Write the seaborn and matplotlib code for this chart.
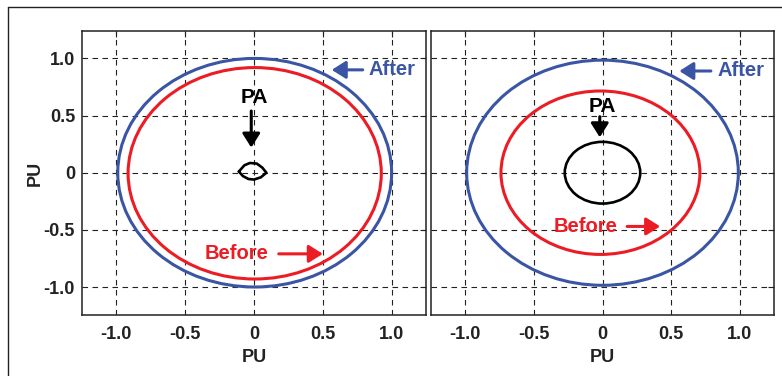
import numpy as np
import pandas as pd
import matplotlib
matplotlib.use("Agg")
import matplotlib.pyplot as plt
from matplotlib.patches import Ellipse
from matplotlib.lines import Line2D
import seaborn as sns

# ---- data ----
tick_vals = [-1.0, -0.5, 0.0, 0.5, 1.0]
tick_labels = ["-1.0", "-0.5", "0", "0.5", "1.0"]

# radii (x, y) of the loci
left_after_r = [0.995, 1.0]
left_before_r = [0.92, 0.925]
right_after_r = [0.99, 0.985]
right_before_r = [0.725, 0.715]
right_pa_r = [0.275, 0.27]
left_center_offset = [0.005, 0.0]
right_before_center = [-0.015, 0.0]

# small irregular PA locus (left panel)
pa_x = [-0.11, -0.07, -0.03, 0.02, 0.06, 0.09, 0.05, 0.0, -0.04, -0.08, -0.11]
pa_y = [0.01, 0.065, 0.085, 0.08, 0.045, 0.0, -0.04, -0.06, -0.055, -0.03, 0.01]

BLUE = "#3b55a5"
RED = "#ec1c24"

sns.set_style("white")
plt.rcParams["font.family"] = ["Liberation Sans", "DejaVu Sans"]
plt.rcParams["font.weight"] = "bold"

fig = plt.figure(figsize=(7.82, 3.76), dpi=100)
ax1 = fig.add_axes([82 / 782, 1 - 315 / 376, 344 / 782, 284 / 376])
ax2 = fig.add_axes([431 / 782, 1 - 315 / 376, 343 / 782, 284 / 376])

# outer frame (top and left edges)
fig.add_artist(Line2D([8 / 782, 1.0], [1 - 7 / 376, 1 - 7 / 376], transform=fig.transFigure, color="#222222", lw=1.0))
fig.add_artist(Line2D([8 / 782, 8 / 782], [0.0, 1 - 7 / 376], transform=fig.transFigure, color="#222222", lw=1.0))

for ax in (ax1, ax2):
    ax.set_xlim(-1.25, 1.25)
    ax.set_ylim(-1.245, 1.24)
    ax.set_xticks(tick_vals)
    ax.set_xticklabels(tick_labels)
    ax.set_yticks(tick_vals)
    ax.grid(True, color="#222222", linestyle=(0, (5, 4)), linewidth=0.8)
    ax.set_axisbelow(True)
    for s in ax.spines.values():
        s.set_visible(True)
        s.set_color("#222222")
        s.set_linewidth(1.1)
    ax.tick_params(direction="in", length=4, width=0.8, top=True, right=True,
                   labelsize=13, pad=8, colors="#222222")
    for lab in ax.get_xticklabels() + ax.get_yticklabels():
        lab.set_fontweight("bold")
    ax.set_xlabel("PU", fontsize=13, fontweight="bold", color="#222222", labelpad=4)

ax1.set_yticklabels(tick_labels)
ax1.tick_params(axis="y", pad=5)
ax1.set_ylabel("PU", fontsize=13, fontweight="bold", color="#222222", labelpad=0)
ax2.set_yticklabels([])
ax2.set_ylabel("")

LW = 2.2

# left panel loci
ax1.add_patch(Ellipse((left_center_offset[0], left_center_offset[1]), 2 * left_after_r[0], 2 * left_after_r[1],
                      fill=False, ec=BLUE, lw=LW))
ax1.add_patch(Ellipse((left_center_offset[0], left_center_offset[1] - 0.005), 2 * left_before_r[0], 2 * left_before_r[1],
                      fill=False, ec=RED, lw=LW))
sns.lineplot(x=pa_x, y=pa_y, sort=False, color="black", lw=1.9, ax=ax1, estimator=None)

# right panel loci
ax2.add_patch(Ellipse((0, 0), 2 * right_after_r[0], 2 * right_after_r[1], fill=False, ec=BLUE, lw=LW))
ax2.add_patch(Ellipse((right_before_center[0], right_before_center[1]), 2 * right_before_r[0], 2 * right_before_r[1],
                      fill=False, ec=RED, lw=LW))
ax2.add_patch(Ellipse((0, 0), 2 * right_pa_r[0], 2 * right_pa_r[1], fill=False, ec="black", lw=1.9))


def arrow(ax, tail, tip, color):
    ax.annotate("", xy=tip, xytext=tail,
                arrowprops=dict(arrowstyle="-|>,head_length=0.6,head_width=0.38", color=color, lw=2.2,
                                shrinkA=0, shrinkB=0, mutation_scale=14))


# left annotations
arrow(ax1, (0.79, 0.90), (0.565, 0.90), BLUE)
ax1.text(0.835, 0.90, "After", color=BLUE, fontsize=14.5, fontweight="bold", ha="left", va="center")
ax1.text(0.0, 0.655, "PA", color="black", fontsize=15, fontweight="bold", ha="center", va="center")
arrow(ax1, (-0.02, 0.54), (-0.02, 0.22), "black")
ax1.text(-0.125, -0.71, "Before", color=RED, fontsize=14.5, fontweight="bold", ha="center", va="center")
arrow(ax1, (0.18, -0.71), (0.5, -0.71), RED)

# right annotations
arrow(ax2, (0.79, 0.89), (0.56, 0.89), BLUE)
ax2.text(0.84, 0.89, "After", color=BLUE, fontsize=14.5, fontweight="bold", ha="left", va="center")
ax2.text(0.0, 0.575, "PA", color="black", fontsize=15, fontweight="bold", ha="center", va="center")
arrow(ax2, (-0.02, 0.49), (-0.02, 0.31), "black")
ax2.text(-0.12, -0.47, "Before", color=RED, fontsize=14.5, fontweight="bold", ha="center", va="center")
arrow(ax2, (0.18, -0.47), (0.42, -0.47), RED)

fig.savefig("out.png", dpi=100)
